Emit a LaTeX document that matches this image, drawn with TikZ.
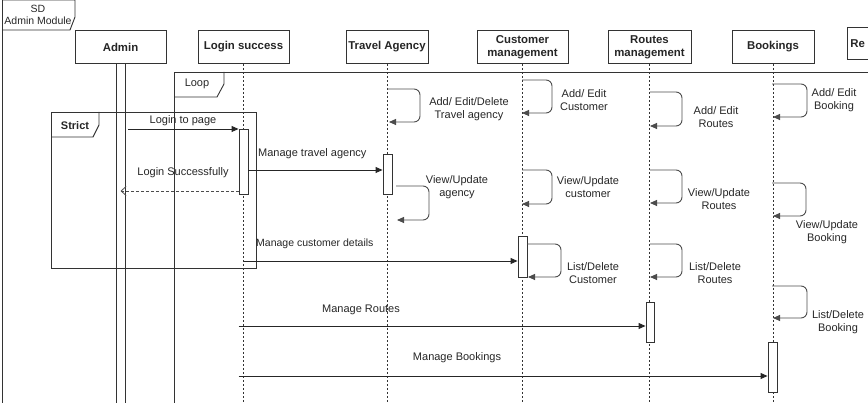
\documentclass[tikz,border=0pt]{standalone}
\usepackage{fontspec}
\setmainfont{Liberation Sans}
\usetikzlibrary{arrows.meta,calc}
\begin{document}
\begin{tikzpicture}[x=1pt,y=-1pt,
  line/.style={draw=black!80,line width=0.9pt},
  head/.style={draw=black!80,line width=0.9pt,fill=white,inner sep=0pt,minimum height=33pt,
    font=\fontsize{11.4}{13}\selectfont\bfseries,align=center,text=black!85},
  lifeline/.style={draw=black!80,line width=0.8pt,dash pattern=on 2pt off 2pt},
  actbox/.style={draw=black!80,line width=0.9pt,fill=white,minimum width=9pt,inner sep=0pt},
  msg/.style={draw=black!85,line width=0.9pt,-{Triangle[length=7pt,width=6pt]}},
  ret/.style={draw=black!70,line width=0.8pt,dash pattern=on 3pt off 2pt,-{Straight Barb[length=5pt,width=9pt]}},
  selfmsg/.style={draw=black!70,line width=0.9pt,rounded corners=6pt,-{Triangle[length=7pt,width=6pt]}},
  lbl/.style={font=\fontsize{11}{12.5}\selectfont,align=center,text=black!85,inner sep=0pt},
  flbl/.style={font=\fontsize{11}{12.5}\selectfont,align=center,text=black!85,inner sep=0pt}
]
\useasboundingbox (0,0) rectangle (868,403);
\clip (0,0) rectangle (868,403);

% ---------- SD frame ----------
\draw[line] (2,0) -- (2,410);
\draw[line] (2,0) -- (75,0) -- (75,17) -- (70,30) -- (2,30);
\node[flbl,font=\fontsize{10.5}{11.5}\selectfont] (sdlbl) at (38,15) {SD\\Admin Module};

% ---------- heads ----------
\node[head,minimum width=91pt] (admin) at (120.5,47) {Admin};
\node[head,minimum width=91pt] (login) at (243.5,47) {Login success};
\node[head,minimum width=82pt] (travel) at (387,47) {Travel Agency};
\node[head,minimum width=91pt] (cust) at (522.5,47) {Customer\\management};
\node[head,minimum width=83pt] (routes) at (649.5,47) {Routes\\management};
\node[head,minimum width=82pt] (book) at (773,47) {Bookings};
\node[head,anchor=north west,minimum height=32pt,minimum width=60pt,text width=54pt,
      inner xsep=3pt,align=left] (re) at (847,27) {Re};

% ---------- lifelines ----------
\coordinate (bot) at (0,410);
\draw[lifeline] (login.south) -- (login.south |- bot);
\draw[lifeline] (travel.south) -- (travel.south |- bot);
\draw[lifeline] (cust.south) -- (cust.south |- bot);
\draw[lifeline] (routes.south) -- (routes.south |- bot);
\draw[lifeline] (book.south) -- (book.south |- bot);

% admin bar
\draw[line] (116,63.5) -- (116,410);
\draw[line] (125,63.5) -- (125,410);

% ---------- Loop frame ----------
\draw[line] (174,410) -- (174,72) -- (870,72);
\draw[line] (224,72) -- (224,84) -- (217,97) -- (174,97);
\node[flbl] (looplbl) at (197,84) {Loop};

% ---------- Strict frame ----------
\draw[line] (51,112) rectangle (256,268);
\draw[line] (99,112) -- (99,125) -- (93,137) -- (51,137);
\node[flbl,font=\fontsize{11}{12.5}\selectfont\bfseries] (strictlbl) at (75,126) {Strict};

% ---------- activations ----------
\node[actbox,minimum height=65pt] (lact) at (243.5,161.5) {};
\node[actbox,minimum height=40pt] (tact) at (387.5,174) {};
\node[actbox,minimum height=41pt] (cact) at (522.5,256.5) {};
\node[actbox,minimum width=8pt,minimum height=40pt] (ract) at (650,322) {};
\node[actbox,minimum height=50pt] (bact) at (772.5,367) {};

% ---------- messages ----------
\coordinate (m1) at (128,129);
\draw[msg] (m1) -- (lact.west |- m1);
\node[lbl] (m1l) at (183,121) {Login to page};

\coordinate (r1) at (0,191);
\draw[ret] (lact.west |- r1) -- (admin.south |- r1);
\node[lbl] (r1l) at (183,173) {Login Successfully};

\coordinate (m2) at (0,170);
\draw[msg] (lact.east |- m2) -- (tact.west |- m2);
\node[lbl,anchor=west] (m2l) at (258,154) {Manage travel agency};

\coordinate (m3) at (0,261);
\draw[msg] (login.south |- m3) -- (cact.west |- m3);
\node[lbl,anchor=west,font=\fontsize{10.5}{12}\selectfont] (m3l) at (256,244) {Manage customer details};

\coordinate (m4) at (0,326);
\draw[msg] (lact.west |- m4) -- (ract.west |- m4);
\node[lbl] (m4l) at (361,310) {Manage Routes};

\coordinate (m5) at (0,376);
\draw[msg] (lact.west |- m5) -- (bact.west |- m5);
\node[lbl] (m5l) at (457,358) {Manage Bookings};

% ---------- self messages ----------
% Travel agency
\coordinate (t1a) at (387,89); \coordinate (t1b) at (389,122);
\draw[selfmsg] (t1a) -- (420,89) -- (420,122) -- (t1b);
\node[lbl] (t1l) at (469,109) {Add/ Edit/Delete\\Travel agency};
\coordinate (t2a) at (396,186); \coordinate (t2b) at (397,220);
\draw[selfmsg] (t2a) -- (429,186) -- (429,220) -- (t2b);
\node[lbl] (t2l) at (457,187) {View/Update\\agency};

% Customer
\coordinate (c1a) at (522,80); \coordinate (c1b) at (522,113);
\draw[selfmsg] (c1a) -- (552,80) -- (552,113) -- (c1b);
\node[lbl] (c1l) at (584,100) {Add/ Edit\\Customer};
\coordinate (c2a) at (522,170); \coordinate (c2b) at (522,204);
\draw[selfmsg] (c2a) -- (552,170) -- (552,204) -- (c2b);
\node[lbl] (c2l) at (588,187) {View/Update\\customer};
\coordinate (c3a) at (527,244); \coordinate (c3b) at (528,277);
\draw[selfmsg] (c3a) -- (561,244) -- (561,277) -- (c3b);
\node[lbl] (c3l) at (593,273) {List/Delete\\Customer};

% Routes
\coordinate (ro1a) at (650,92); \coordinate (ro1b) at (650,126);
\draw[selfmsg] (ro1a) -- (682,92) -- (682,126) -- (ro1b);
\node[lbl] (ro1l) at (716,117) {Add/ Edit\\Routes};
\coordinate (ro2a) at (650,170); \coordinate (ro2b) at (650,203);
\draw[selfmsg] (ro2a) -- (682,170) -- (682,203) -- (ro2b);
\node[lbl] (ro2l) at (719,199) {View/Update\\Routes};
\coordinate (ro3a) at (650,244); \coordinate (ro3b) at (650,277);
\draw[selfmsg] (ro3a) -- (682,244) -- (682,277) -- (ro3b);
\node[lbl] (ro3l) at (715,273) {List/Delete\\Routes};

% Bookings
\coordinate (b1a) at (772,84); \coordinate (b1b) at (773,117);
\draw[selfmsg] (b1a) -- (807,84) -- (807,117) -- (b1b);
\node[lbl] (b1l) at (834,100) {Add/ Edit\\Booking};
\coordinate (b2a) at (772,183); \coordinate (b2b) at (773,216);
\draw[selfmsg] (b2a) -- (806,183) -- (806,216) -- (b2b);
\node[lbl] (b2l) at (827,232) {View/Update\\Booking};
\coordinate (b3a) at (772,286); \coordinate (b3b) at (773,318);
\draw[selfmsg] (b3a) -- (807,286) -- (807,318) -- (b3b);
\node[lbl] (b3l) at (838,322) {List/Delete\\Booking};
\end{tikzpicture}
\end{document}
